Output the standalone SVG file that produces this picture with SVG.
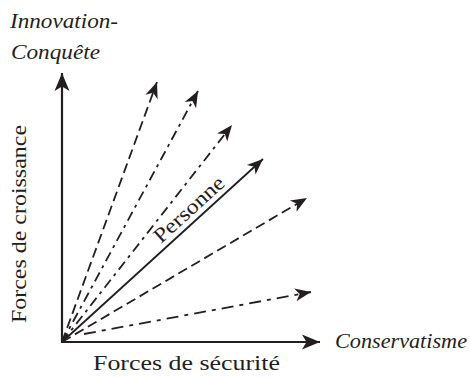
<svg xmlns="http://www.w3.org/2000/svg" width="470" height="377" viewBox="0 0 470 377">
<style>
.lbl{font-family:"Liberation Serif","Times New Roman",serif;font-size:21px;fill:#231f20}
.it{font-style:italic}
.ray{fill:none;stroke:#231f20;stroke-width:1.8}
.axis{fill:none;stroke:#231f20;stroke-width:2.2}
</style>
<defs>
<marker id="ah" markerUnits="userSpaceOnUse" viewBox="-17 -7 18 14" refX="0" refY="0" markerWidth="18" markerHeight="14" orient="auto">
<path d="M0,0 L-16,-6.5 L-11.5,0 L-16,6.5 Z" fill="#231f20"/>
</marker>
<marker id="ahx" markerUnits="userSpaceOnUse" viewBox="-19 -8 20 16" refX="0" refY="0" markerWidth="20" markerHeight="16" orient="auto">
<path d="M0,0 L-18,-7.5 L-13.5,0 L-18,7.5 Z" fill="#231f20"/>
</marker>
</defs>
<g id="connectors">
<line id="axis-y" class="axis" x1="62" y1="343" x2="62" y2="73" marker-end="url(#ahx)"/>
<line id="axis-x" class="axis" x1="61" y1="342" x2="320" y2="342" marker-end="url(#ahx)"/>
<line id="ray-a" class="ray" x1="62" y1="342" x2="157" y2="82" stroke-dasharray="10 5" marker-end="url(#ah)"/>
<line id="ray-b" class="ray" x1="62" y1="342" x2="198" y2="91" stroke-dasharray="10 5 3 5" marker-end="url(#ah)"/>
<line id="ray-c" class="ray" x1="62" y1="342" x2="232" y2="125" stroke-dasharray="10 5 3 5" marker-end="url(#ah)"/>
<line id="ray-personne" class="ray" x1="62" y1="342" x2="263" y2="159" marker-end="url(#ah)"/>
<line id="ray-e" class="ray" x1="62" y1="342" x2="307" y2="198" stroke-dasharray="10 5" marker-end="url(#ah)"/>
<line id="ray-f" class="ray" x1="84" y1="334" x2="311" y2="292" stroke-dasharray="12 6 4 6" marker-end="url(#ah)"/>
</g>
<g id="label-innovation">
<text class="lbl it" x="10" y="28" textLength="108" lengthAdjust="spacingAndGlyphs">Innovation-</text>
<text class="lbl it" x="11" y="59" textLength="89" lengthAdjust="spacingAndGlyphs">Conquête</text>
</g>
<g id="label-conservatisme">
<text class="lbl it" x="335" y="348" textLength="132" lengthAdjust="spacingAndGlyphs">Conservatisme</text>
</g>
<g id="label-securite">
<text class="lbl" x="93" y="370" textLength="187" lengthAdjust="spacingAndGlyphs">Forces de sécurité</text>
</g>
<g id="label-croissance">
<text class="lbl" transform="translate(26,323) rotate(-90)" x="0" y="0" textLength="198" lengthAdjust="spacingAndGlyphs">Forces de croissance</text>
</g>
<g id="label-personne">
<text class="lbl" transform="translate(161,244) rotate(-42.3)" x="0" y="0" textLength="88" lengthAdjust="spacingAndGlyphs">Personne</text>
</g>
</svg>
